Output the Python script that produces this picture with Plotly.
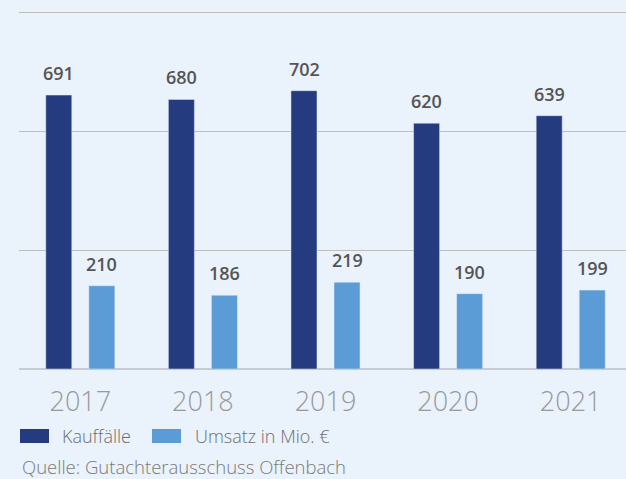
import plotly.graph_objects as go

years = ["2017", "2018", "2019", "2020", "2021"]
kauffaelle = [691, 680, 702, 620, 639]
umsatz = [210, 186, 219, 190, 199]
series_names = ["Kauffälle", "Umsatz in Mio. €"]
source_text = "Quelle: Gutachterausschuss Offenbach"

DARK = "#243B7F"
LIGHT = "#5B9BD6"
BG = "#EAF2FB"
FONT = "Open Sans"

W, H = 626, 479
ml, mr, mt, mb = 19, 0, 11, 110
pw = W - ml - mr
cat_px = 122.5
bw = 26 / cat_px
xidx = list(range(len(years)))

fig = go.Figure()
fig.add_trace(go.Bar(x=xidx, y=kauffaelle, name=series_names[0], marker_color=DARK,
                     width=bw, offset=-34.5 / cat_px, showlegend=False, hoverinfo="skip"))
fig.add_trace(go.Bar(x=xidx, y=umsatz, name=series_names[1], marker_color=LIGHT,
                     width=bw, offset=8.5 / cat_px, showlegend=False, hoverinfo="skip"))

for vals, xs in ((kauffaelle, -21.5), (umsatz, 21.5)):
    for i, v in zip(xidx, vals):
        fig.add_annotation(x=i, y=v, xref="x", yref="y", text=str(v), showarrow=False,
                           xshift=xs, yshift=8, yanchor="bottom",
                           font=dict(family=FONT, size=18, color="#555555", weight=600))

def px2x(p):
    return (p - ml) / pw

def py2y(p):
    return (H - mb - p) / (H - mt - mb)

legend_items = [(20, 60, DARK, series_names[0]), (152, 193, LIGHT, series_names[1])]
for x0, tx, col, name in legend_items:
    fig.add_shape(type="rect", xref="paper", yref="paper",
                  x0=px2x(x0), x1=px2x(x0 + 29), y0=py2y(443), y1=py2y(429),
                  fillcolor=col, line_width=0)
    fig.add_annotation(xref="paper", yref="paper", x=px2x(tx), y=py2y(436),
                       text=name, showarrow=False, xanchor="left", yanchor="middle",
                       font=dict(family=FONT, size=18, color="#6E6E6E", weight=300))

fig.add_annotation(xref="paper", yref="paper", x=px2x(20), y=py2y(466),
                   text=source_text, showarrow=False, xanchor="left", yanchor="middle",
                   font=dict(family=FONT, size=18.5, color="#7A7A7A", weight=300))

fig.update_layout(
    width=W, height=H,
    margin=dict(l=ml, r=mr, t=mt, b=mb),
    paper_bgcolor=BG, plot_bgcolor=BG,
    barmode="overlay",
    xaxis=dict(range=[-0.5, 4.5 - 6 / cat_px], showgrid=False,
               tickvals=xidx, ticktext=years,
               showline=False, zeroline=False, ticks="",
               tickfont=dict(family=FONT, size=27, color="#999999", weight=300),
               ticklabelstandoff=14),
    yaxis=dict(range=[0, 903], tickvals=[0, 300, 600, 900], showticklabels=False,
               showgrid=True, gridcolor="#BEBEBE", gridwidth=1.3,
               zeroline=True, zerolinecolor="#C6CBD4", zerolinewidth=2,
               showline=False),
)

fig.write_html("out.html", config={"displayModeBar": False},
               post_script="document.body.style.margin='0';document.body.style.overflow='hidden';")
